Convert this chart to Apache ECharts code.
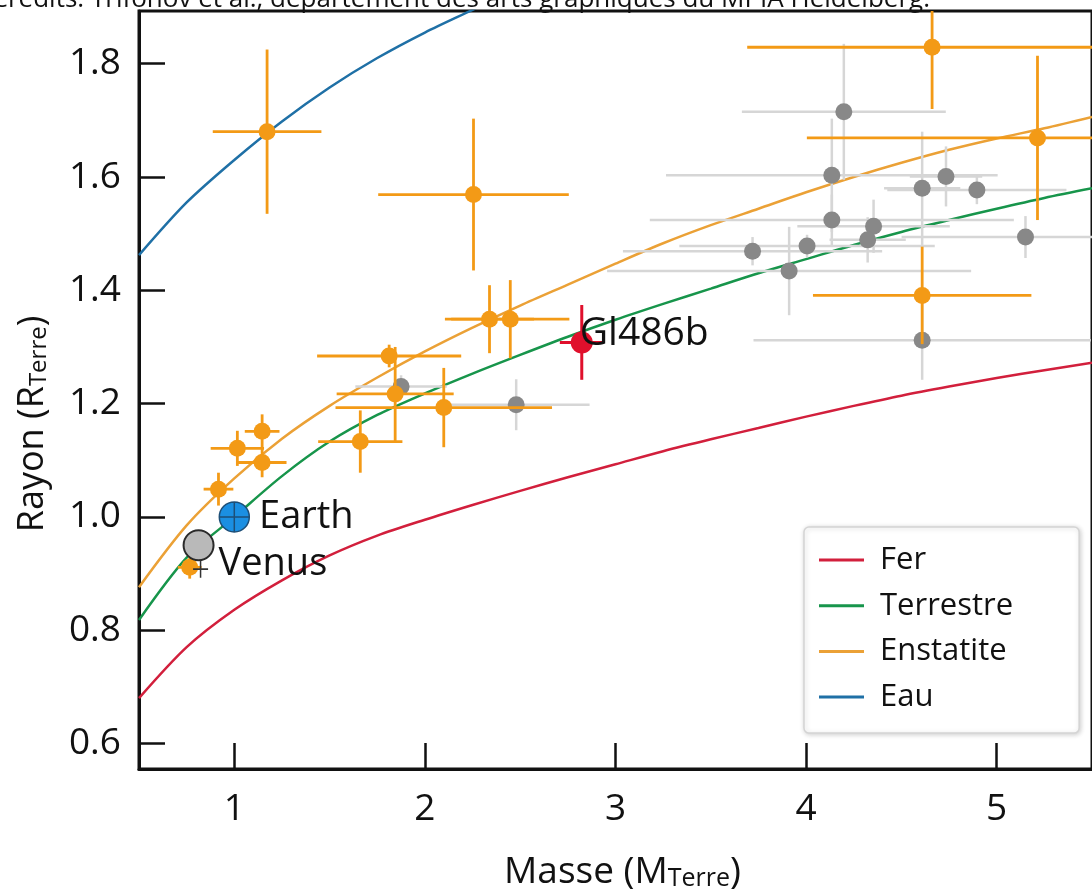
<!DOCTYPE html>
<html><head><meta charset="utf-8">
<script src="https://cdn.jsdelivr.net/npm/echarts@6/dist/echarts.min.js"></script>
<style>html,body{margin:0;padding:0;background:#fff}#c{width:1092px;height:896px}</style>
</head><body><div id="c"></div>
<script>
// ---- data ----
const curveMass = [0.5,0.75,1,1.25,1.5,1.75,2,2.25,2.5,2.75,3,3.25,3.5,3.75,4,4.25,4.5,4.75,5,5.25,5.5];
const ferRad    = [0.68,0.77,0.836,0.888,0.932,0.967,0.995,1.021,1.046,1.07,1.093,1.116,1.137,1.157,1.177,1.196,1.214,1.23,1.245,1.259,1.272];
const terRad    = [0.818,0.928,1.0,1.072,1.133,1.18,1.218,1.253,1.286,1.318,1.348,1.376,1.403,1.43,1.455,1.48,1.503,1.524,1.544,1.563,1.58];
const ensRad    = [0.876,0.985,1.068,1.138,1.196,1.246,1.292,1.334,1.373,1.41,1.447,1.483,1.515,1.544,1.573,1.6,1.625,1.648,1.668,1.686,1.706];
const eauMass   = [0.5,0.75,1,1.25,1.5,1.75,2,2.25,2.5];
const eauRad    = [1.462,1.555,1.63,1.698,1.758,1.81,1.855,1.895,1.935];

const obsMass    = [1.172,2.255,2.339,2.448,1.8125,1.844,2.099,1.661,1.016,1.146,1.146,0.917,0.766,4.661,5.214,4.609];
const obsRad     = [1.680,1.569,1.349,1.349,1.284,1.217,1.193,1.133,1.121,1.151,1.096,1.049,0.911,1.829,1.669,1.391];
const obsMassErr = [0.285,0.50,0.234,0.31,0.378,0.307,0.568,0.221,0.14,0.091,0.128,0.078,0.0625,0.97,1.21,0.573];
const obsRadErr  = [0.145,0.134,0.06,0.069,0.02,0.083,0.07,0.055,0.031,0.03,0.026,0.029,0.02,0.109,0.145,0.086];

const othMass    = [4.198,4.135,4.135,4.609,4.734,4.896,4.354,4.323,4.005,3.719,3.911,5.151,1.875,2.479,4.609];
const othRad     = [1.715,1.603,1.524,1.580,1.601,1.577,1.513,1.489,1.478,1.469,1.434,1.494,1.230,1.198,1.312];
const othMassErr = [0.535,0.87,0.955,0.2,0.19,0.47,0.4,0.2,0.67,0.68,0.955,0.65,0.24,0.385,0.885];
const othRadErr  = [0.12,0.1,0.045,0.1,0.053,0.025,0.047,0.04,0.02,0.025,0.078,0.037,0.02,0.045,0.07];

const glMass = [2.823], glRad = [1.308], glMassErr = [0.115], glRadErr = [0.066];
const earth = [1.0, 1.0];
const venus = [0.8125, 0.95];

const xTicks = [1,2,3,4,5];
const yTicks = [0.6,0.8,1.0,1.2,1.4,1.6,1.8];
const curveNames = ['Fer','Terrestre','Enstatite','Eau'];
const labels = {earth:'Earth', venus:'Venus', gl:'Gl486b'};
const credit = 'Credits: Trifonov et al., département des arts graphiques du MPIA Heidelberg.';

// ---- styling ----
const FONT = '"Open Sans", "Noto Sans", sans-serif';
const C = {fer:'#d21f3c', ter:'#17954b', ens:'#eba136', eau:'#1f70a6', obs:'#f39a16', oth:'#888888', othErr:'#d6d6d6', gl:'#e0102c'};

function zip(a,b){return a.map((v,i)=>[v,b[i]]);}
function errData(m,r,me,re){return m.map((v,i)=>[v,r[i],me[i],re[i]]);}
function errRender(color,width){
  return function(params, api){
    const x=api.value(0), y=api.value(1), ex=api.value(2), ey=api.value(3);
    const l=api.coord([x-ex,y]), rr=api.coord([x+ex,y]);
    const t=api.coord([x,y+ey]), b=api.coord([x,y-ey]);
    return {type:'group', children:[
      {type:'line', shape:{x1:l[0],y1:l[1],x2:rr[0],y2:rr[1]}, style:{stroke:color,lineWidth:width}},
      {type:'line', shape:{x1:t[0],y1:t[1],x2:b[0],y2:b[1]}, style:{stroke:color,lineWidth:width}}
    ]};
  };
}
const lineSeries = (name, xs, ys, color) => ({
  name, type:'line', data: zip(xs,ys), smooth:0.3, symbol:'none', showSymbol:false,
  lineStyle:{color, width:2.5}, itemStyle:{color}, z:2, silent:true
});

const chart = echarts.init(document.getElementById('c'), null, {renderer:'canvas'});
chart.setOption({
  animation:false,
  backgroundColor:'#fff',
  grid:{left:139, top:11, width:961, height:764, show:true, borderColor:'#111', borderWidth:3, backgroundColor:'transparent'},
  xAxis:{
    type:'value', min:0.5, max:5.5,
    axisLine:{show:true, lineStyle:{color:'#111', width:3}},
    axisTick:{show:true, inside:true, length:26, customValues:xTicks, lineStyle:{color:'#111', width:2.5}},
    axisLabel:{customValues:xTicks, margin:22, fontSize:37, color:'#111', fontFamily:FONT, formatter:v=>String(Math.round(v))},
    splitLine:{show:false},
    name:'{a|Masse (M}{b|Terre}{a|)}', nameLocation:'middle', nameGap:78,
    nameTextStyle:{padding:[0,0,0,14], rich:{
      a:{fontSize:37, fontFamily:FONT, color:'#111', lineHeight:44, verticalAlign:'bottom'},
      b:{fontSize:25, fontFamily:FONT, color:'#111', lineHeight:31, verticalAlign:'bottom'}
    }}
  },
  yAxis:{
    type:'value', min:0.555, max:1.893,
    axisLine:{show:true, lineStyle:{color:'#111', width:3}},
    axisTick:{show:true, inside:true, length:26, customValues:yTicks, lineStyle:{color:'#111', width:2.5}},
    axisLabel:{customValues:yTicks, margin:18, fontSize:37, color:'#111', fontFamily:FONT, formatter:v=>v.toFixed(1)},
    splitLine:{show:false}
  },
  legend:{
    data:curveNames, orient:'vertical', left:804, top:527,
    icon:'rect', itemWidth:45, itemHeight:3, itemGap:14.7, selectedMode:false,
    padding:[17.5,66,20.5,15],
    backgroundColor:'#fff', borderColor:'#d4d4d4', borderWidth:1.5, borderRadius:5,
    shadowColor:'rgba(0,0,0,0.18)', shadowBlur:5, shadowOffsetX:1, shadowOffsetY:1,
    textStyle:{fontSize:31, color:'#111', fontFamily:FONT, padding:[0,0,0,11]}
  },
  graphic:[
    {type:'text', x:930, y:13, silent:true, style:{text:credit, align:'right', verticalAlign:'bottom', fontSize:26, fontFamily:FONT, fill:'#111'}},
    {type:'text', x:30, y:424, rotation:Math.PI/2, silent:true, style:{
      text:'{a|Rayon (R}{b|Terre}{a|)}', align:'center', verticalAlign:'middle',
      rich:{
        a:{fontSize:36, fontFamily:FONT, fill:'#111', lineHeight:42, verticalAlign:'bottom'},
        b:{fontSize:24, fontFamily:FONT, fill:'#111', lineHeight:30, verticalAlign:'bottom'}
      }}}
  ],
  series:[
    lineSeries('Fer', curveMass, ferRad, C.fer),
    lineSeries('Terrestre', curveMass, terRad, C.ter),
    lineSeries('Enstatite', curveMass, ensRad, C.ens),
    lineSeries('Eau', eauMass, eauRad, C.eau),
    {type:'custom', name:'autresErr', clip:true, z:3, silent:true, renderItem:errRender(C.othErr,2.5),
      encode:{x:0,y:1}, data:errData(othMass,othRad,othMassErr,othRadErr)},
    {type:'scatter', name:'autres', z:4, symbolSize:17, itemStyle:{color:C.oth, opacity:1}, data:zip(othMass,othRad), silent:true},
    {type:'custom', name:'obsErr', clip:true, z:5, silent:true, renderItem:errRender(C.obs,2.8),
      encode:{x:0,y:1}, data:errData(obsMass,obsRad,obsMassErr,obsRadErr)},
    {type:'scatter', name:'obs', z:6, symbolSize:17, itemStyle:{color:C.obs, opacity:1}, data:zip(obsMass,obsRad), silent:true},
    {type:'scatter', name:'Earth', z:7, symbolSize:30,
      symbol:'path://M-1 0A1 1 0 1 0 1 0A1 1 0 1 0 -1 0ZM0 -1L0 1M-1 0L1 0',
      itemStyle:{color:'#1b8fe2', borderColor:'#1d4f78', borderWidth:1.5, opacity:1},
      label:{show:true, position:'right', distance:9, formatter:labels.earth, fontSize:38, color:'#111', fontFamily:FONT},
      data:[earth], silent:true},
    {type:'scatter', name:'Venus', z:7, symbolSize:30,
      itemStyle:{color:'#b9b9b9', borderColor:'#2a2a2a', borderWidth:2, opacity:1},
      label:{show:true, position:'right', distance:4, offset:[0,19], formatter:labels.venus, fontSize:38, color:'#111', fontFamily:FONT},
      data:[venus], silent:true},
    {type:'scatter', name:'VenusCross', z:7, symbolSize:[15,17], symbolOffset:[2,24],
      symbol:'path://M0 -1L0 1M-1 0L1 0',
      itemStyle:{color:'transparent', borderColor:'#333', borderWidth:1.6, opacity:1},
      data:[venus], silent:true},
    {type:'custom', name:'glErr', clip:true, z:8, silent:true, renderItem:errRender(C.gl,3),
      encode:{x:0,y:1}, data:errData(glMass,glRad,glMassErr,glRadErr)},
    {type:'scatter', name:'Gl486b', z:9, symbolSize:22, itemStyle:{color:C.gl, opacity:1},
      label:{show:true, position:'right', distance:5, offset:[-18,-9], formatter:labels.gl, fontSize:39, color:'#111', fontFamily:FONT},
      data:zip(glMass,glRad), silent:true}
  ]
});
</script>
</body></html>
